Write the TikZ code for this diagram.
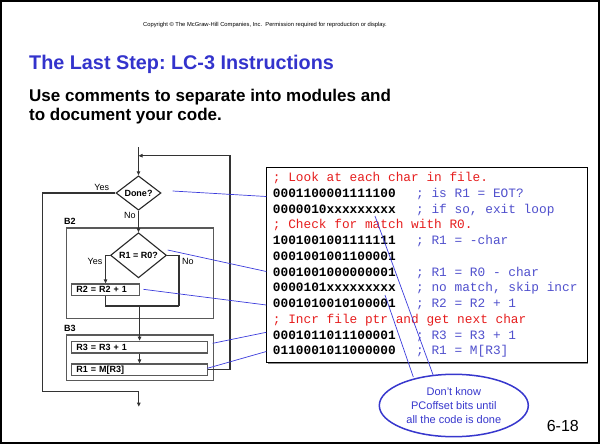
\documentclass[tikz,border=0pt]{standalone}
\usepackage{fontspec}
\setmainfont{Liberation Sans}
\setmonofont{Liberation Mono}
\usetikzlibrary{shapes.geometric,arrows.meta}
\definecolor{titleblue}{RGB}{51,51,204}
\definecolor{cmtblue}{RGB}{80,80,205}
\definecolor{cmtred}{RGB}{230,30,30}
\definecolor{linkblue}{RGB}{60,60,220}
\definecolor{noteblue}{RGB}{55,55,205}
\tikzset{
  flow/.style={draw=black!80, line width=1.1pt},
  arr/.style={flow, -{Triangle[length=4pt,width=3.5pt]}},
  dia/.style={diamond, draw=black!85, line width=1.1pt, inner sep=0pt, fill=white,
    font=\bfseries\fontsize{9}{10}\selectfont},
  pbox/.style={rectangle, draw=black!65, line width=1.4pt, inner xsep=5pt, inner ysep=0pt,
    minimum height=11.7pt, align=left, anchor=north west,
    font=\bfseries\fontsize{9}{10}\selectfont},
  grp/.style={rectangle, draw=black!65, line width=1.4pt, anchor=north west},
  lbl/.style={inner sep=0pt, font=\fontsize{9}{10}\selectfont},
  blbl/.style={inner sep=0pt, font=\bfseries\fontsize{9}{10}\selectfont},
  link/.style={draw=linkblue, line width=0.7pt},
  cbin/.style={anchor=base west, inner sep=0pt, font=\ttfamily\bfseries\fontsize{12.8}{14}\selectfont},
  cred/.style={anchor=base west, inner sep=0pt, text=cmtred, font=\ttfamily\fontsize{12.8}{14}\selectfont},
  cblue/.style={anchor=base west, inner sep=0pt, text=cmtblue, font=\ttfamily\fontsize{12.8}{14}\selectfont},
}
\frenchspacing
\begin{document}
\begin{tikzpicture}[x=1pt,y=-1pt]
\useasboundingbox (0,0) rectangle (600,444);
\draw[line width=2pt] (1,1) rectangle (599,443);

% header
\node[inner sep=0pt, font=\fontsize{5.8}{7}\selectfont] (copy) at (265,25.3)
  {Copyright © The McGraw-Hill Companies, Inc.\ \ Permission required for reproduction or display.};
\node[anchor=base west, inner sep=0pt, text=titleblue, font=\bfseries\fontsize{19.8}{24}\selectfont] (title) at (29,70)
  {The Last Step: LC-3 Instructions};
\node[anchor=base west, inner sep=0pt, font=\bfseries\fontsize{17}{20}\selectfont] (sub1) at (29,101)
  {Use comments to separate into modules and};
\node[anchor=base west, inner sep=0pt, font=\bfseries\fontsize{17}{20}\selectfont] (sub2) at (29,121)
  {to document your code.};

% flowchart
\node[grp, minimum width=147pt, minimum height=90.4pt] (b2) at (65.7,227.3) {};
\node[blbl, anchor=south west] (b2l) at (64,224.5) {B2};
\node[grp, minimum width=147pt, minimum height=45.7pt] (b3) at (65.7,334.3) {};
\node[blbl, anchor=south west] (b3l) at (64,331.5) {B3};

\node[dia, minimum width=45pt, minimum height=34pt] (done) at (138.5,193) {Done?};
\node[dia, minimum width=56pt, minimum height=34pt] (cmp) at (138.5,255.3) {R1 = R0?};
\node[pbox, text width=58.3pt] (r2) at (70.7,283.3) {R2 = R2 + 1};
\node[pbox, text width=126.3pt] (r3) at (70.7,340.7) {R3 = R3 + 1};
\node[pbox, text width=126.3pt] (r1m) at (70.7,363.3) {R1 = M[R3]};

\node[lbl] (yes1) at (101.7,187) {Yes};
\node[lbl] (no1) at (130,215.5) {No};
\node[lbl] (yes2) at (95,261) {Yes};
\node[lbl] (no2) at (188,261) {No};

\coordinate (top) at (138.5,147);
\coordinate (jn) at (138.5,155.7);
\coordinate (loopc) at (230,155.7);
\coordinate (exitc) at (42.7,391.7);
\coordinate (exitend) at (138.8,406.7);
\coordinate (nojoin) at (179,306);

\draw[arr] (top) -- (done.north);
\draw[arr] (r1m.east) -| (loopc) -- (jn);
\draw[arr] (done.west) -| (exitc) -| (exitend);
\draw[arr] (done.south) -- (cmp.north);
\draw[arr] (cmp.west) -| (r2.north);
\draw[flow] (cmp.east) -| (nojoin);
\draw[flow] (r2.south) |- (nojoin);
\draw[arr] (r3.north |- nojoin) -- (r3.north);
\draw[arr] (r3.south) -- (r1m.north);

% code box
\fill[black!45] (267.5,167.5) rectangle (588.2,363.5);
\node[rectangle, draw=black, line width=1pt, fill=white, anchor=north west,
  minimum width=320.5pt, minimum height=195.6pt] (code) at (266.3,166.7) {};

\node[cred] (l1) at (272.7,181.5) {; Look at each char in file.};
\node[cbin] (l2) at (272.7,197.3) {0001100001111100};
\node[cblue] (l2c) at (416,197.3) {; is R1 = EOT?};
\node[cbin] (l3) at (272.7,213.0) {0000010xxxxxxxxx};
\node[cblue] (l3c) at (416,213.0) {; if so, exit loop};
\node[cred] (l4) at (272.7,228.8) {; Check for match with R0.};
\node[cbin] (l5) at (272.7,244.5) {1001001001111111};
\node[cblue] (l5c) at (416,244.5) {; R1 = -char};
\node[cbin] (l6) at (272.7,260.3) {0001001001100001};
\node[cbin] (l7) at (272.7,276.1) {0001001000000001};
\node[cblue] (l7c) at (416,276.1) {; R1 = R0 - char};
\node[cbin] (l8) at (272.7,291.8) {0000101xxxxxxxxx};
\node[cblue] (l8c) at (416,291.8) {; no match, skip incr};
\node[cbin] (l9) at (272.7,307.6) {0001010010100001};
\node[cblue] (l9c) at (416,307.6) {; R2 = R2 + 1};
\node[cred] (l10) at (272.7,323.3) {; Incr file ptr and get next char};
\node[cbin] (l11) at (272.7,339.1) {0001011011100001};
\node[cblue] (l11c) at (416,339.1) {; R3 = R3 + 1};
\node[cbin] (l12) at (272.7,354.8) {0110001011000000};
\node[cblue] (l12c) at (416,354.8) {; R1 = M[R3]};

% links from flowchart to code
\coordinate (s1) at (172.7,191);   \coordinate (e1) at (266.3,196.5);
\coordinate (s2) at (167.7,250);   \coordinate (e2) at (266.3,271.5);
\coordinate (s3) at (143.3,289.3); \coordinate (e3) at (266.3,305);
\coordinate (s4) at (212.7,343.3); \coordinate (e4) at (266.3,332.3);
\coordinate (s5) at (207.3,368.3); \coordinate (e5) at (266.3,351.5);
\draw[link] (s1) -- (e1);
\draw[link] (s2) -- (e2);
\draw[link] (s3) -- (e3);
\draw[link] (s4) -- (e4);
\draw[link] (s5) -- (e5);

% callout
\node[ellipse, draw=noteblue, line width=1.5pt, fill=white, minimum width=149pt, minimum height=62.4pt,
  inner sep=0pt, text=noteblue, align=center, font=\fontsize{11}{13.8}\selectfont] (note) at (453.8,405.5)
  {Don't know\\PCoffset bits until\\all the code is done};
\coordinate (pa) at (375,216);   \coordinate (qa) at (433.3,375.5);
\coordinate (pb) at (385,295);   \coordinate (qb) at (413.3,377);
\draw[link] (pa) -- (qa);
\draw[link] (pb) -- (qb);

\node[anchor=base east, inner sep=0pt, font=\fontsize{16}{18}\selectfont] (pg) at (579,431.5) {6-18};
\end{tikzpicture}
\end{document}
